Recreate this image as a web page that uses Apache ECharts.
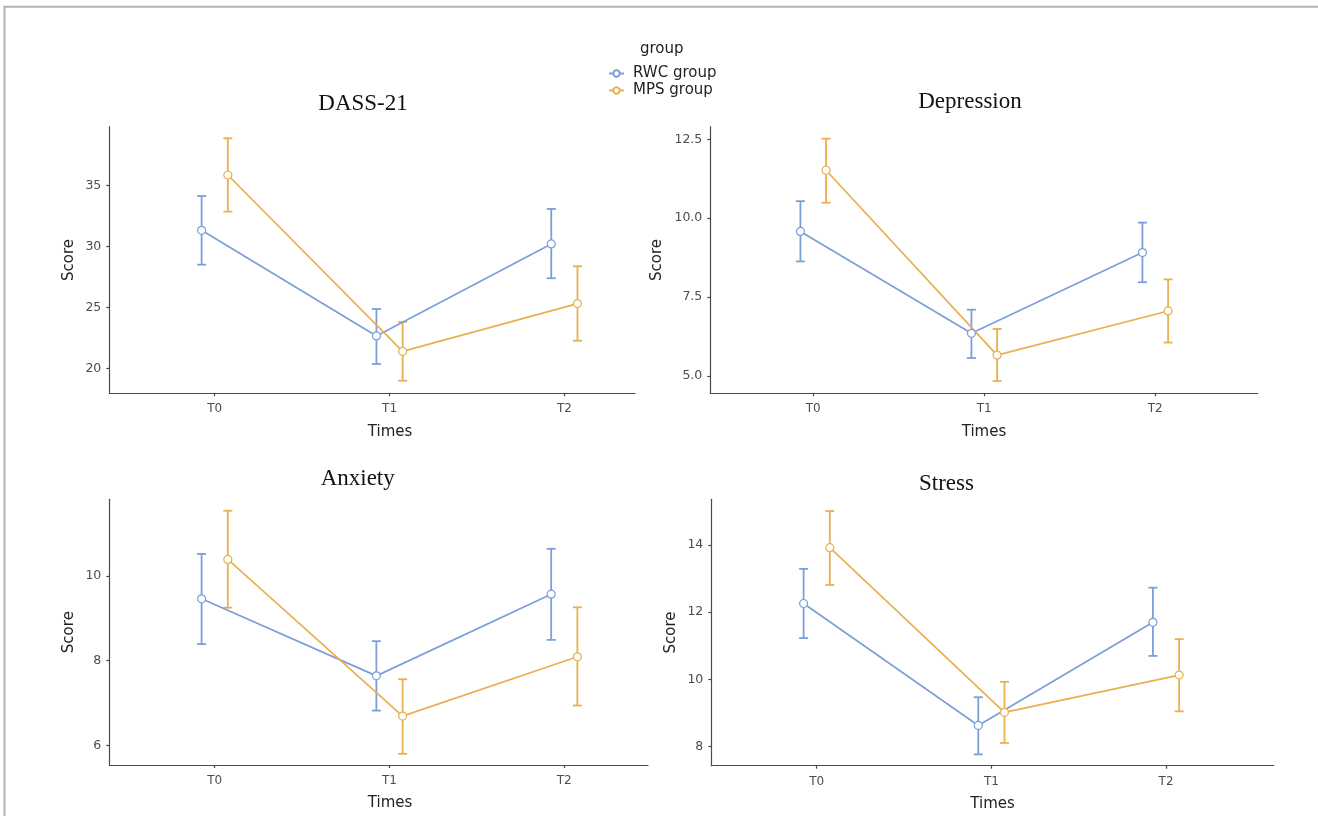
<!DOCTYPE html>
<html><head><meta charset="utf-8">
<script src="https://cdn.jsdelivr.net/npm/echarts@6/dist/echarts.min.js"></script>
<style>html,body{margin:0;padding:0;background:#fff}#chart{width:1318px;height:816px}</style>
</head><body><div id="chart"></div>
<script>
// ---------- data ----------
const times = ['T0', 'T1', 'T2'];
const groups = ['RWC group', 'MPS group'];
const panelTitles = ['DASS-21', 'Depression', 'Anxiety', 'Stress'];

const dassRWC = [31.31, 22.65, 30.19];
const dassRWCLow = [28.49, 20.35, 27.38];
const dassRWCHigh = [34.12, 24.86, 33.06];
const dassMPS = [35.84, 21.39, 25.30];
const dassMPSLow = [32.84, 18.98, 22.26];
const dassMPSHigh = [38.85, 23.80, 28.36];

const depRWC = [9.58, 6.35, 8.91];
const depRWCLow = [8.63, 5.57, 7.97];
const depRWCHigh = [10.54, 7.10, 9.86];
const depMPS = [11.52, 5.66, 7.06];
const depMPSLow = [10.49, 4.84, 6.06];
const depMPSHigh = [12.52, 6.49, 8.06];

const anxRWC = [9.46, 7.64, 9.57];
const anxRWCLow = [8.39, 6.82, 8.49];
const anxRWCHigh = [10.52, 8.46, 10.64];
const anxMPS = [10.39, 6.69, 8.09];
const anxMPSLow = [9.25, 5.80, 6.94];
const anxMPSHigh = [11.54, 7.56, 9.26];

const strRWC = [12.26, 8.63, 11.70];
const strRWCLow = [11.23, 7.77, 10.70];
const strRWCHigh = [13.29, 9.47, 12.73];
const strMPS = [13.92, 9.02, 10.13];
const strMPSLow = [12.81, 8.11, 9.05];
const strMPSHigh = [15.01, 9.93, 11.20];

const dassTicks = [20, 25, 30, 35];
const depTicks = [5.0, 7.5, 10.0, 12.5];
const anxTicks = [6, 8, 10];
const strTicks = [8, 10, 12, 14];

// ---------- assembly ----------
const panels = [
  {title: panelTitles[0], ticks: dassTicks, dec: 0,
   rwc: [dassRWC, dassRWCLow, dassRWCHigh], mps: [dassMPS, dassMPSLow, dassMPSHigh]},
  {title: panelTitles[1], ticks: depTicks, dec: 1,
   rwc: [depRWC, depRWCLow, depRWCHigh], mps: [depMPS, depMPSLow, depMPSHigh]},
  {title: panelTitles[2], ticks: anxTicks, dec: 0,
   rwc: [anxRWC, anxRWCLow, anxRWCHigh], mps: [anxMPS, anxMPSLow, anxMPSHigh]},
  {title: panelTitles[3], ticks: strTicks, dec: 0,
   rwc: [strRWC, strRWCLow, strRWCHigh], mps: [strMPS, strMPSLow, strMPSHigh]}
];

// layout (pixels / axis ranges)
const layout = [
  {left: 109.3, top: 126.7, width: 525.7, height: 266.6, xMin: 0.397, xMax: 3.404, yMin: 17.95, yMax: 39.80, shift: 17.9, titleX: 363, titleY: 104, yGap: 33},
  {left: 710.3, top: 126.7, width: 547.4, height: 266.6, xMin: 0.398, xMax: 3.599, yMin: 4.45, yMax: 12.90, shift: 0, titleX: 970, titleY: 101.5, yGap: 46},
  {left: 109.3, top: 499.3, width: 538.7, height: 265.7, xMin: 0.397, xMax: 3.479, yMin: 5.535, yMax: 11.81, shift: 11.4, titleX: 357.7, titleY: 478.5, yGap: 33},
  {left: 711.3, top: 499.3, width: 562.5, height: 266.4, xMin: 0.3965, xMax: 3.617, yMin: 7.433, yMax: 15.36, shift: 0, titleX: 946.5, titleY: 484, yGap: 33}
];

const colors = ['#7b9fd8', '#e9b04f'];
const dodge = 0.075;
const axisColor = '#4a4a4a';
const sans = 'DejaVu Sans';

function errRender(params, api) {
  const x = api.value(0), lo = api.value(1), hi = api.value(2);
  const pLo = api.coord([x, lo]), pHi = api.coord([x, hi]);
  const w = 4.5;
  const style = {stroke: api.visual('color'), lineWidth: 1.8, fill: null};
  return {type: 'group', children: [
    {type: 'line', shape: {x1: pLo[0], y1: pLo[1], x2: pHi[0], y2: pHi[1]}, style: style},
    {type: 'line', shape: {x1: pLo[0] - w, y1: pLo[1], x2: pLo[0] + w, y2: pLo[1]}, style: style},
    {type: 'line', shape: {x1: pHi[0] - w, y1: pHi[1], x2: pHi[0] + w, y2: pHi[1]}, style: style}
  ]};
}

const grid = [], xAxis = [], yAxis = [], series = [], graphic = [];

panels.forEach((p, i) => {
  const L = layout[i];
  grid.push({left: L.left, top: L.top, width: L.width, height: L.height, containLabel: false});
  xAxis.push({
    type: 'value', gridIndex: i, min: L.xMin, max: L.xMax,
    axisLine: {show: true, onZero: false, lineStyle: {color: axisColor, width: 1.2}},
    axisTick: {show: true, length: 3, customValues: [1, 2, 3], lineStyle: {color: axisColor, width: 1.2}},
    axisLabel: {customValues: [1, 2, 3], formatter: v => times[Math.round(v) - 1], color: '#4d4d4d',
                fontSize: 12, fontFamily: sans, margin: 10},
    splitLine: {show: false},
    name: 'Times', nameLocation: 'middle', nameGap: 31,
    nameTextStyle: {fontSize: 15, color: '#222', fontFamily: sans, padding: [0, 0, 0, L.shift * 2]}
  });
  yAxis.push({
    type: 'value', gridIndex: i, min: L.yMin, max: L.yMax,
    axisLine: {show: true, onZero: false, lineStyle: {color: axisColor, width: 1.2}},
    axisTick: {show: true, length: 3, customValues: p.ticks, lineStyle: {color: axisColor, width: 1.2}},
    axisLabel: {customValues: p.ticks, formatter: v => v.toFixed(p.dec), color: '#4d4d4d',
                fontSize: 12.5, fontFamily: sans, margin: 8},
    splitLine: {show: false},
    name: 'Score', nameLocation: 'middle', nameGap: L.yGap,
    nameTextStyle: {fontSize: 15, color: '#222', fontFamily: sans}
  });
  [p.rwc, p.mps].forEach((g, k) => {
    const off = k === 0 ? -dodge : dodge;
    series.push({
      name: groups[k] + ' error', type: 'custom', xAxisIndex: i, yAxisIndex: i,
      renderItem: errRender, itemStyle: {color: colors[k]},
      data: times.map((t, j) => [j + 1 + off, g[1][j], g[2][j]]),
      encode: {x: 0, y: [1, 2]}, z: 2
    });
  });
  [p.rwc, p.mps].forEach((g, k) => {
    const off = k === 0 ? -dodge : dodge;
    series.push({
      name: groups[k], type: 'line', xAxisIndex: i, yAxisIndex: i,
      data: times.map((t, j) => [j + 1 + off, g[0][j]]),
      symbol: 'circle', symbolSize: 8, showSymbol: true,
      lineStyle: {color: colors[k], width: 1.7},
      itemStyle: {color: '#fff', borderColor: colors[k], borderWidth: 1.2},
      z: 3
    });
  });
  graphic.push({type: 'text', x: L.titleX, y: L.titleY,
    style: {text: p.title, font: '23px "Liberation Serif"', fill: '#111', textAlign: 'center', textVerticalAlign: 'middle'}});
});

graphic.push({type: 'text', x: 640, y: 49.5,
  style: {text: 'group', font: '15px "DejaVu Sans"', fill: '#222', textAlign: 'left', textVerticalAlign: 'middle'}});
graphic.push({type: 'line', shape: {x1: 3.5, y1: 6.7, x2: 1318, y2: 6.7}, style: {stroke: '#b3b3b3', lineWidth: 2}});
graphic.push({type: 'line', shape: {x1: 4.5, y1: 6, x2: 4.5, y2: 816}, style: {stroke: '#b3b3b3', lineWidth: 2}});

const chart = echarts.init(document.getElementById('chart'), null, {renderer: 'canvas'});
chart.setOption({
  animation: false,
  backgroundColor: '#fff',
  grid, xAxis, yAxis, series, graphic,
  legend: {
    data: groups, orient: 'vertical', left: 608, top: 66, padding: 0,
    itemWidth: 15, itemHeight: 8, itemGap: 2,
    textStyle: {fontFamily: sans, fontSize: 15, color: '#222', padding: [0, 0, 0, 4]},
    selectedMode: false
  }
});
</script></body></html>
